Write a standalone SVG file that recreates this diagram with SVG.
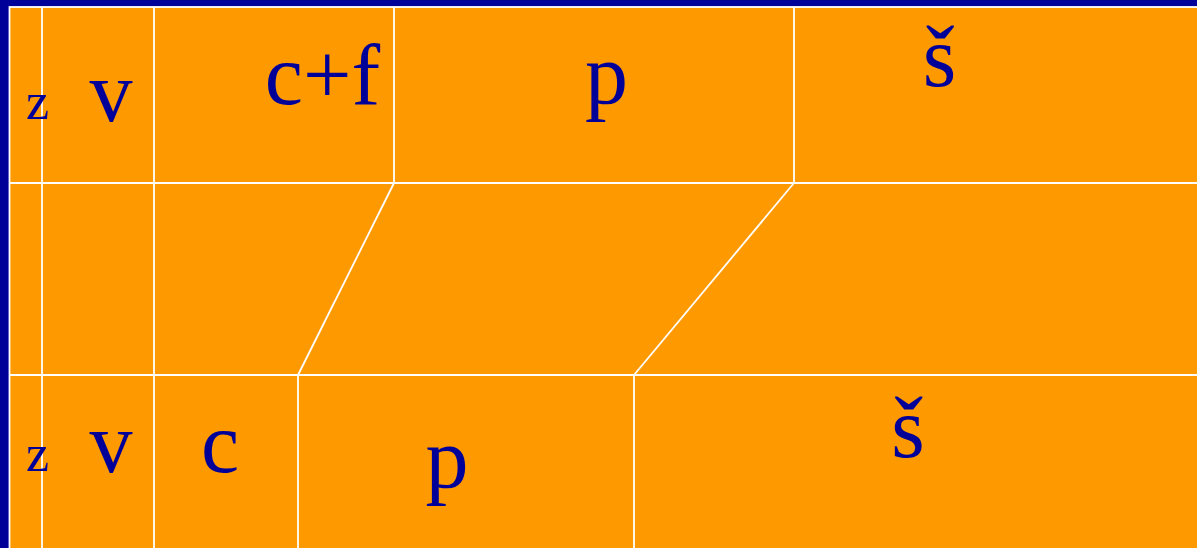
<svg xmlns="http://www.w3.org/2000/svg" width="1197" height="548" viewBox="0 0 1197 548">
<style>
.ln{stroke:#FFFFFF;stroke-width:1.8;fill:none}
.t{font-family:"Liberation Serif","Times New Roman",serif;fill:#000099;text-anchor:middle}
.big{font-size:86px}
.sm{font-size:52px}
</style>
<rect x="0" y="0" width="1197" height="548" fill="#000099"/>
<rect x="9.5" y="7" width="1200" height="560" fill="#FF9900" stroke="#FFFFFF" stroke-width="1.8"/>
<g id="connectors">
<line class="ln" x1="42" y1="7" x2="42" y2="548"/>
<line class="ln" x1="154" y1="7" x2="154" y2="548"/>
<line class="ln" x1="10" y1="183" x2="1197" y2="183"/>
<line class="ln" x1="10" y1="375" x2="1197" y2="375"/>
<line class="ln" x1="394" y1="7" x2="394" y2="183"/>
<line class="ln" x1="794" y1="7" x2="794" y2="183"/>
<line class="ln" x1="394" y1="183" x2="298" y2="375"/>
<line class="ln" x1="794" y1="183" x2="634" y2="375"/>
<line class="ln" x1="298" y1="375" x2="298" y2="548"/>
<line class="ln" x1="634" y1="375" x2="634" y2="548"/>
</g>
<g id="top-z"><text class="t sm" x="37.5" y="119">z</text></g>
<g id="top-v"><text class="t big" x="111" y="121">v</text></g>
<g id="top-cf"><text class="t big" x="322.5" y="104">c+f</text></g>
<g id="top-p"><text class="t big" x="606.5" y="103">p</text></g>
<g id="top-s"><text class="t big" x="939.5" y="86">š</text></g>
<g id="bot-z"><text class="t sm" x="37.5" y="471">z</text></g>
<g id="bot-v"><text class="t big" x="111" y="472">v</text></g>
<g id="bot-c"><text class="t big" x="220" y="472">c</text></g>
<g id="bot-p"><text class="t big" x="447" y="487">p</text></g>
<g id="bot-s"><text class="t big" x="908" y="457">š</text></g>
</svg>
